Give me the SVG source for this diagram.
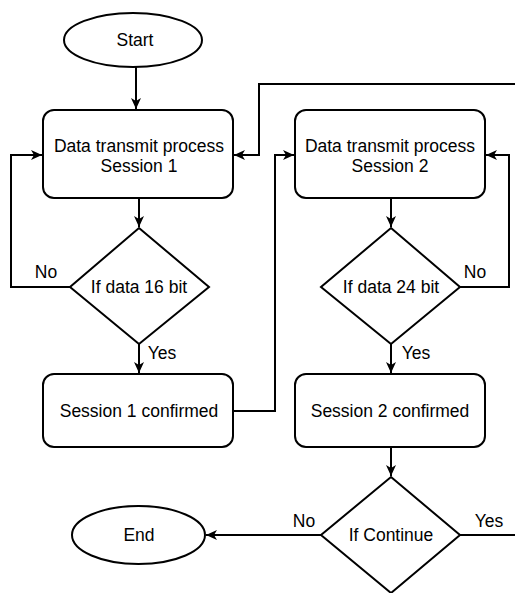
<svg xmlns="http://www.w3.org/2000/svg" width="515" height="593" viewBox="0 0 515 593">
<defs>
<style>
.shape{fill:#fff;stroke:#000;stroke-width:2}
.edge{fill:none;stroke:#000;stroke-width:2}
text{font-family:"Liberation Sans",Arial,sans-serif;font-size:17.5px;fill:#000;text-anchor:middle;dominant-baseline:central}
</style>
<marker id="arr" markerUnits="userSpaceOnUse" markerWidth="12" markerHeight="10" refX="11" refY="5" orient="auto">
<path d="M0,0 L11,5 L0,10 L3,5 z" fill="#000"/>
</marker>
</defs>
<rect width="515" height="593" fill="#fff"/>
<g id="connectors">
<path class="edge" d="M136,67 V109" marker-end="url(#arr)"/>
<path class="edge" d="M139,198 V227" marker-end="url(#arr)"/>
<path class="edge" d="M70,287 H11 V155 H42" marker-end="url(#arr)"/>
<path class="edge" d="M139,344 V373" marker-end="url(#arr)"/>
<path class="edge" d="M233,411 H275 V155 H294" marker-end="url(#arr)"/>
<path class="edge" d="M515,84 H259 V155 H234" marker-end="url(#arr)"/>
<path class="edge" d="M391,198 V227" marker-end="url(#arr)"/>
<path class="edge" d="M460,287 H509 V155 H486" marker-end="url(#arr)"/>
<path class="edge" d="M391,344 V373" marker-end="url(#arr)"/>
<path class="edge" d="M391,447 V476" marker-end="url(#arr)"/>
<path class="edge" d="M321,535 H206" marker-end="url(#arr)"/>
<path class="edge" d="M460,535 H515"/>
<text x="46" y="272">No</text>
<text x="162" y="353">Yes</text>
<text x="475" y="272">No</text>
<text x="416" y="353">Yes</text>
<text x="304" y="521">No</text>
<text x="489" y="521">Yes</text>
</g>
<g id="start"><ellipse class="shape" cx="133" cy="40" rx="69" ry="27"/><text x="135" y="40">Start</text></g>
<g id="box1"><rect class="shape" x="43" y="110" width="190" height="88" rx="11"/><text x="139" y="146">Data transmit process</text><text x="139" y="166">Session 1</text></g>
<g id="box2"><rect class="shape" x="295" y="110" width="190" height="88" rx="11"/><text x="390" y="146">Data transmit process</text><text x="390" y="166">Session 2</text></g>
<g id="dec1"><path class="shape" d="M139,228 L209,287 L139,344 L70,287 z"/><text x="139" y="287">If data 16 bit</text></g>
<g id="dec2"><path class="shape" d="M391,228 L460,287 L391,344 L321,287 z"/><text x="391" y="287">If data 24 bit</text></g>
<g id="box3"><rect class="shape" x="43" y="374" width="190" height="73" rx="11"/><text x="139" y="411">Session 1 confirmed</text></g>
<g id="box4"><rect class="shape" x="295" y="374" width="190" height="73" rx="11"/><text x="390" y="411">Session 2 confirmed</text></g>
<g id="dec3"><path class="shape" d="M391,477 L460,535 L391,593 L321,535 z"/><text x="391" y="535">If Continue</text></g>
<g id="end"><ellipse class="shape" cx="138.5" cy="535" rx="66.5" ry="29"/><text x="139" y="535">End</text></g>
</svg>
